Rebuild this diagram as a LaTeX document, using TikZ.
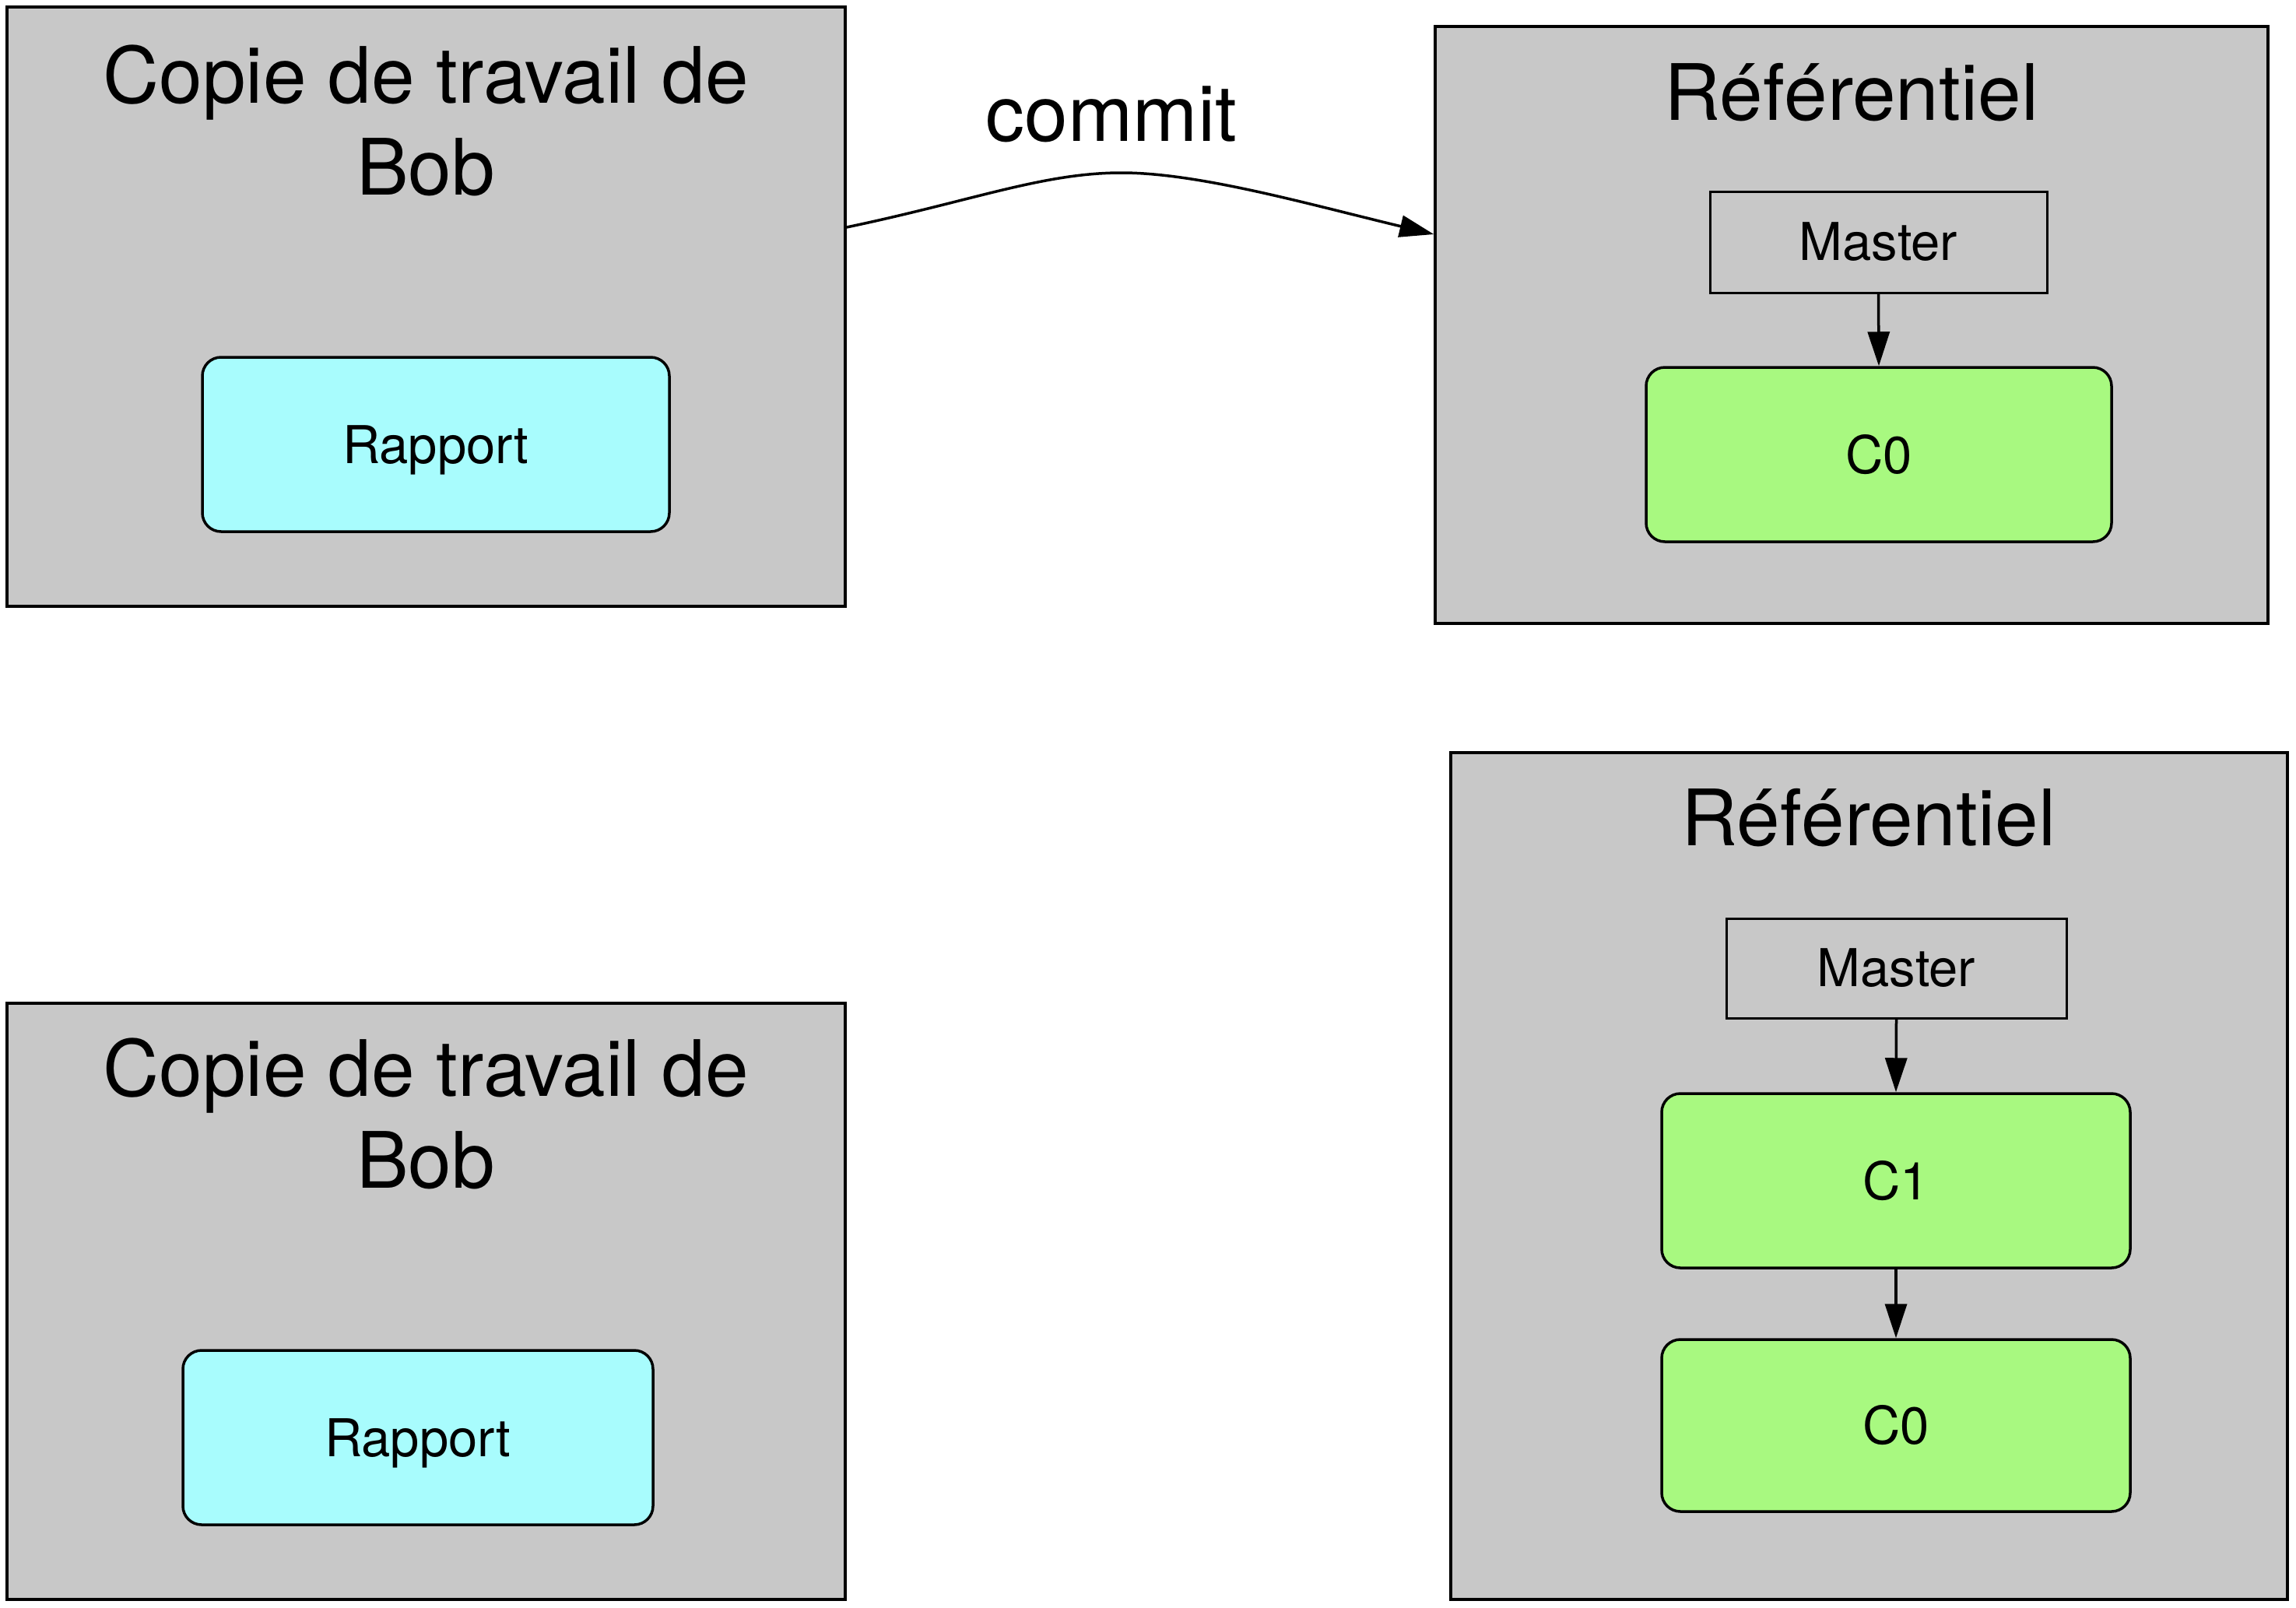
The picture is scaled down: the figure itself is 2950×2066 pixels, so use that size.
\documentclass[tikz,border=0pt]{standalone}
\usepackage{fontspec}
\setmainfont{TeX Gyre Heros}
\usetikzlibrary{arrows.meta}
\definecolor{boxgray}{RGB}{200,200,200}
\definecolor{filecyan}{RGB}{168,252,253}
\definecolor{commitgreen}{RGB}{168,249,128}
\begin{document}
\begin{tikzpicture}[x=1pt,y=-1pt,
  gbox/.style={draw=black,fill=boxgray,line width=3.5pt,inner sep=0pt},
  filebox/.style={draw=black,fill=filecyan,line width=3.5pt,rounded corners=24pt,inner sep=0pt,text depth=0pt,font=\fontsize{67}{80}\selectfont},
  cmtbox/.style={draw=black,fill=commitgreen,line width=3.5pt,rounded corners=24pt,inner sep=0pt,font=\fontsize{67}{80}\selectfont},
  refbox/.style={draw=black,fill=boxgray,line width=3pt,inner sep=0pt,font=\fontsize{67}{80}\selectfont},
  ttl/.style={font=\fontsize{100}{118}\selectfont,align=center,inner sep=0pt,anchor=base},
  arr/.style={line width=3.5pt,-{Triangle[length=44pt,width=28pt]}}]
\useasboundingbox (0,0) rectangle (2950,2066);
% boxes
\node[gbox,minimum width=1077pt,minimum height=770pt] (tl) at (547.5,394) {};
\node[gbox,minimum width=1070pt,minimum height=767pt] (tr) at (2379,417.5) {};
\node[gbox,minimum width=1077pt,minimum height=766pt] (bl) at (547.5,1672) {};
\node[gbox,minimum width=1075pt,minimum height=1088pt] (br) at (2401.5,1511) {};
% titles
\node[ttl] (tlt) at (547,250) {Copie de travail de\\Bob};
\node[ttl] (blt) at (547,1526) {Copie de travail de\\Bob};
\node[ttl] (trt) at (2379,154) {Référentiel};
\node[ttl] (brt) at (2401,1086) {Référentiel};
% inner
\node[filebox,minimum width=600pt,minimum height=224pt] (rap1) at (560,571) {Rapport};
\node[filebox,minimum width=604pt,minimum height=224pt] (rap2) at (537,1847) {Rapport};
\node[refbox,minimum width=433pt,minimum height=130pt] (m1) at (2413.5,311) {Master};
\node[cmtbox,minimum width=598pt,minimum height=224pt] (c0a) at (2414,584) {C0};
\node[refbox,minimum width=437pt,minimum height=128pt] (m2) at (2436.5,1244) {Master};
\node[cmtbox,minimum width=602pt,minimum height=224pt] (c1) at (2436,1517) {C1};
\node[cmtbox,minimum width=602pt,minimum height=221pt] (c0b) at (2436,1831.5) {C0};
% arrows
\draw[arr] (m1.south) -- (c0a.north);
\draw[arr] (m2.south) -- (c1.north);
\draw[arr] (c1.south) -- (c0b.north);
\coordinate (cs) at (tl.east |- 0,292);
\coordinate (ce) at (tr.west |- 0,301);
\draw[arr] (cs) .. controls (1250,258) and (1340,222) .. (1441,222)
  .. controls (1540,222) and (1680,262) .. (ce);
\node[ttl] (cl) at (1428,181) {commit};
\end{tikzpicture}
\end{document}
